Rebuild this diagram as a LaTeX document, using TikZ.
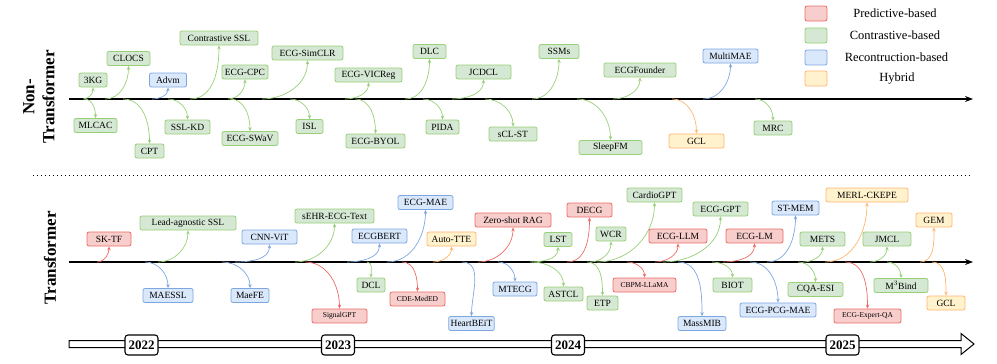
\documentclass[tikz,border=0pt]{standalone}
\usepackage{fontspec}
\setmainfont{Liberation Serif}
\usetikzlibrary{arrows.meta}

\definecolor{gfill}{HTML}{D5E8D4}
\definecolor{gline}{HTML}{97D077}
\definecolor{bfill}{HTML}{DAE8FC}
\definecolor{bline}{HTML}{7EA6E0}
\definecolor{rfill}{HTML}{F8CECC}
\definecolor{rline}{HTML}{EA6B66}
\definecolor{ofill}{HTML}{FFF2CC}
\definecolor{oline}{HTML}{FFB570}

\begin{document}
\begin{tikzpicture}[x=1pt, y=-1pt, >=Stealth,
    box/.style={rounded corners=2pt, line width=0.8pt, minimum height=14pt,
                inner xsep=2pt, inner ysep=0pt, font=\fontsize{9.5}{11}\selectfont},
    gbox/.style={box, draw=gline, fill=gfill},
    bbox/.style={box, draw=bline, fill=bfill},
    rbox/.style={box, draw=rline, fill=rfill},
    rsbox/.style={rbox, font=\fontsize{7.5}{9}\selectfont},
    obox/.style={box, draw=oline, fill=ofill},
    arr/.style={-{Stealth[length=4pt,width=3.4pt]}, line width=0.7pt},
    garr/.style={arr, draw=gline},
    barr/.style={arr, draw=bline},
    rarr/.style={arr, draw=rline},
    oarr/.style={arr, draw=oline},
    rise/.style={out=0, in=-90},
    fall/.style={out=0, in=90},
    tl/.style={line width=1.2pt, -{Stealth[length=8pt,width=6pt]}},
    yr/.style={draw, fill=white, rounded corners=3pt, line width=1.1pt,
               minimum width=33pt, minimum height=20pt, inner sep=1pt,
               font=\bfseries\fontsize{13}{14}\selectfont},
    side/.style={rotate=90, align=center, font=\bfseries\fontsize{17}{20}\selectfont},
    legtxt/.style={font=\fontsize{12.5}{14}\selectfont}]
  \useasboundingbox (0,0) rectangle (997,364);

  % section labels
  \node[side] (nontf) at (39,97) {Non-\\Transformer};
  \node[side] (tf) at (50,258) {Transformer};

  % timelines
  \coordinate (ns) at (69,99);  \coordinate (ne) at (973,99);
  \coordinate (ts) at (69,262); \coordinate (te) at (973,262);
  \draw[tl] (ns) -- (ne);
  \draw[tl] (ts) -- (te);
  \coordinate (ds) at (33,175); \coordinate (de) at (971,175);
  \draw[line width=1pt, dash pattern=on 1.2pt off 2.8pt] (ds) -- (de);

  % legend
  \node[rbox, minimum width=22pt, minimum height=15pt] (lp) at (816,13.5) {};
  \node[gbox, minimum width=22pt, minimum height=15pt] (lc) at (816,35.5) {};
  \node[bbox, minimum width=22pt, minimum height=15pt] (lr) at (816,57.5) {};
  \node[obox, minimum width=22pt, minimum height=15pt] (lh) at (816,78.5) {};
  \node[legtxt] (lp-t) at (895,13.5) {Predictive-based};
  \node[legtxt] (lc-t) at (895,35.5) {Contrastive-based};
  \node[legtxt] (lr-t) at (896.5,57.5) {Recontruction-based};
  \node[legtxt] (lh-t) at (897,78.5) {Hybrid};

  % ---- non-transformer ----
  \node[gbox, minimum width=28pt] (kg3) at (93,80) {3KG};
  \node[gbox, minimum width=43pt] (clocs) at (128.5,58.5) {CLOCS};
  \node[bbox, minimum width=37pt] (advm) at (168,80) {Advm};
  \node[gbox, minimum width=78pt] (cssl) at (219,38) {Contrastive SSL};
  \node[gbox, minimum width=43pt] (mlcac) at (95.5,125.5) {MLCAC};
  \node[gbox, minimum width=29pt] (cpt) at (149.5,151) {CPT};
  \node[gbox, minimum width=45pt] (sslkd) at (187.5,127) {SSL-KD};
  \node[gbox, minimum width=46pt] (ecgcpc) at (245,72) {ECG-CPC};
  \node[gbox, minimum width=56pt] (swav) at (250,138.5) {ECG-SWaV};
  \node[gbox, minimum width=71pt] (simclr) at (307.5,53) {ECG-SimCLR};
  \node[gbox, minimum width=27pt] (isl) at (309.5,126.5) {ISL};
  \node[gbox, minimum width=67pt] (vicreg) at (368.5,75) {ECG-VICReg};
  \node[gbox, minimum width=59pt] (byol) at (375.5,141) {ECG-BYOL};
  \node[gbox, minimum width=33pt] (dlc) at (429.5,51.5) {DLC};
  \node[gbox, minimum width=33pt] (pida) at (442.5,127) {PIDA};
  \node[gbox, minimum width=55pt] (jcdcl) at (483.5,72) {JCDCL};
  \node[gbox, minimum width=48pt] (sclst) at (513,134) {sCL-ST};
  \node[gbox, minimum width=40pt] (ssms) at (559,51.5) {SSMs};
  \node[gbox, minimum width=63pt] (sleepfm) at (610.5,147.5) {SleepFM};
  \node[gbox, minimum width=72pt] (founder) at (640,70) {ECGFounder};
  \node[obox, minimum width=55pt] (gcl) at (696.5,141) {GCL};
  \node[bbox, minimum width=55pt] (multimae) at (730.5,56) {MultiMAE};
  \node[gbox, minimum width=38pt] (mrc) at (773,128) {MRC};

  \foreach \n/\x in {kg3/83, mlcac/84, clocs/105, advm/152, cpt/123, sslkd/168,
      cssl/190, ecgcpc/228, swav/230, simclr/262, isl/290, vicreg/345, byol/355,
      dlc/405, pida/423, jcdcl/452, sclst/485, ssms/532, sleepfm/577,
      founder/613, gcl/672, multimae/703, mrc/755}
    \coordinate (t-\n) at (\x,99);

  \draw[garr] (t-kg3) to[rise] (kg3.south);
  \draw[garr] (t-mlcac) to[fall] (mlcac.north);
  \draw[garr] (t-clocs) to[rise] (clocs.south);
  \draw[barr] (t-advm) to[rise] (advm.south);
  \draw[garr] (t-cpt) to[fall] (cpt.north);
  \draw[garr] (t-sslkd) to[fall] (sslkd.north);
  \draw[garr] (t-cssl) to[rise] (cssl.south);
  \draw[garr] (t-ecgcpc) to[rise] (ecgcpc.south);
  \draw[garr] (t-swav) to[fall] (swav.north);
  \draw[garr] (t-simclr) to[rise] (simclr.south);
  \draw[garr] (t-isl) to[fall] (isl.north);
  \draw[garr] (t-vicreg) to[rise] (vicreg.south);
  \draw[garr] (t-byol) to[fall] (byol.north);
  \draw[garr] (t-dlc) to[rise] (dlc.south);
  \draw[garr] (t-pida) to[fall] (pida.north);
  \draw[garr] (t-jcdcl) to[rise] (jcdcl.south);
  \draw[garr] (t-sclst) to[fall] (sclst.north);
  \draw[garr] (t-ssms) to[rise] (ssms.south);
  \draw[garr] (t-sleepfm) to[fall] (sleepfm.north);
  \draw[garr] (t-founder) to[rise] (founder.south);
  \draw[oarr] (t-gcl) to[fall] (gcl.north);
  \draw[barr] (t-multimae) to[rise] (multimae.south);
  \draw[garr] (t-mrc) to[fall] (mrc.north);

  % ---- transformer ----
  \node[rbox, minimum width=44pt] (sktf) at (109,239) {SK-TF};
  \node[gbox, minimum width=96pt] (leadssl) at (188,223) {Lead-agnostic SSL};
  \node[bbox, minimum width=50pt] (maessl) at (168,295.5) {MAESSL};
  \node[bbox, minimum width=38pt] (maefe) at (250,295.5) {MaeFE};
  \node[bbox, minimum width=55pt] (cnnvit) at (269.5,237) {CNN-ViT};
  \node[gbox, minimum width=79pt] (sehr) at (334.5,216) {sEHR-ECG-Text};
  \node[rsbox, minimum width=55pt] (signalgpt) at (339.5,316) {SignalGPT};
  \node[bbox, minimum width=55pt] (ecgbert) at (379.5,236) {ECGBERT};
  \node[gbox, minimum width=28pt] (dcl) at (371,285) {DCL};
  \node[bbox, minimum width=55pt] (ecgmae) at (425.5,202.5) {ECG-MAE};
  \node[rsbox, minimum width=55pt] (cdemed) at (417.5,299) {CDE-MedED};
  \node[obox, minimum width=49pt] (autotte) at (451.5,239) {Auto-TTE};
  \node[bbox, minimum width=43pt] (heartbeit) at (471.5,323.5) {HeartBEiT};
  \node[rbox, minimum width=76pt] (zeroshot) at (513,220) {Zero-shot RAG};
  \node[bbox, minimum width=44pt] (mtecg) at (515,289) {MTECG};
  \node[gbox, minimum width=28pt] (lst) at (558,239.5) {LST};
  \node[gbox, minimum width=39pt] (astcl) at (563.5,294) {ASTCL};
  \node[rbox, minimum width=45pt] (decg) at (589.5,210) {DECG};
  \node[gbox, minimum width=31pt] (etp) at (602.5,303) {ETP};
  \node[gbox, minimum width=30pt] (wcr) at (611,234) {WCR};
  \node[gbox, minimum width=55pt] (cardiogpt) at (654.5,195) {CardioGPT};
  \node[rsbox, minimum width=63pt] (cbpm) at (644.5,285) {CBPM-LLaMA};
  \node[rbox, minimum width=58pt] (ecgllm) at (678,236) {ECG-LLM};
  \node[gbox, minimum width=55pt] (ecggpt) at (720.5,209) {ECG-GPT};
  \node[bbox, minimum width=48pt] (massmib) at (702,323.5) {MassMIB};
  \node[gbox, minimum width=39pt] (biot) at (732.5,285) {BIOT};
  \node[rbox, minimum width=57pt] (ecglm) at (754.5,236) {ECG-LM};
  \node[bbox, minimum width=76pt] (pcgmae) at (778,310) {ECG-PCG-MAE};
  \node[bbox, minimum width=47pt] (stmem) at (795.5,208) {ST-MEM};
  \node[gbox, minimum width=55pt] (cqa) at (815.5,289.5) {CQA-ESI};
  \node[gbox, minimum width=45pt] (mets) at (822.5,239) {METS};
  \node[obox, minimum width=82pt] (merl) at (867,195) {MERL-CKEPE};
  \node[rsbox, minimum width=67pt] (expertqa) at (867.5,316) {ECG-Expert-QA};
  \node[gbox, minimum width=48pt] (jmcl) at (887,239) {JMCL};
  \node[gbox, minimum width=54pt] (m3bind) at (901,285.5) {M$^3$Bind};
  \node[obox, minimum width=36pt] (gem) at (934,220) {GEM};
  \node[obox, minimum width=38pt] (gcltf) at (946,303) {GCL};

  \foreach \n/\x in {sktf/97, maessl/145, leadssl/158, maefe/222, cnnvit/235,
      sehr/295, signalgpt/305, ecgbert/347, dcl/367, ecgmae/387, cdemed/402,
      autotte/433, heartbeit/462, zeroshot/478, mtecg/498, lst/530, astcl/532,
      decg/567, etp/587, wcr/590, cardiogpt/597, cbpm/627, ecgllm/655,
      ecggpt/663, massmib/678, biot/712, ecglm/723, pcgmae/750, stmem/767,
      cqa/798, mets/803, merl/825, expertqa/845, jmcl/870, m3bind/887,
      gem/920, gcltf/932}
    \coordinate (t-\n) at (\x,262);

  \draw[rarr] (t-sktf) to[rise] (sktf.south);
  \draw[barr] (t-maessl) to[fall] (maessl.north);
  \draw[garr] (t-leadssl) to[rise] (leadssl.south);
  \draw[barr] (t-maefe) to[fall] (maefe.north);
  \draw[barr] (t-cnnvit) to[rise] (cnnvit.south);
  \draw[garr] (t-sehr) to[rise] (sehr.south);
  \draw[rarr] (t-signalgpt) to[fall] (signalgpt.north);
  \draw[barr] (t-ecgbert) to[rise] (ecgbert.south);
  \draw[garr] (t-dcl) to[fall] (dcl.north);
  \draw[barr] (t-ecgmae) to[rise] (ecgmae.south);
  \draw[rarr] (t-cdemed) to[fall] (cdemed.north);
  \draw[oarr] (t-autotte) to[rise] (autotte.south);
  \draw[barr] (t-heartbeit) to[fall] (heartbeit.north);
  \draw[rarr] (t-zeroshot) to[rise] (zeroshot.south);
  \draw[barr] (t-mtecg) to[fall] (mtecg.north);
  \draw[garr] (t-lst) to[rise] (lst.south);
  \draw[garr] (t-astcl) to[fall] (astcl.north);
  \draw[rarr] (t-decg) to[rise] (decg.south);
  \draw[garr] (t-etp) to[fall] (etp.north);
  \draw[garr] (t-wcr) to[rise] (wcr.south);
  \draw[garr] (t-cardiogpt) to[rise] (cardiogpt.south);
  \draw[rarr] (t-cbpm) to[fall] (cbpm.north);
  \draw[rarr] (t-ecgllm) to[rise] (ecgllm.south);
  \draw[garr] (t-ecggpt) to[rise] (ecggpt.south);
  \draw[barr] (t-massmib) to[fall] (massmib.north);
  \draw[garr] (t-biot) to[fall] (biot.north);
  \draw[rarr] (t-ecglm) to[rise] (ecglm.south);
  \draw[barr] (t-pcgmae) to[fall] (pcgmae.north);
  \draw[barr] (t-stmem) to[rise] (stmem.south);
  \draw[garr] (t-cqa) to[fall] (cqa.north);
  \draw[garr] (t-mets) to[rise] (mets.south);
  \draw[oarr] (t-merl) to[rise] (merl.south);
  \draw[rarr] (t-expertqa) to[fall] (expertqa.north);
  \draw[garr] (t-jmcl) to[rise] (jmcl.south);
  \draw[garr] (t-m3bind) to[fall] (m3bind.north);
  \draw[oarr] (t-gem) to[rise] (gem.south);
  \draw[oarr] (t-gcltf) to[fall] (gcltf.north);

  % years
  \draw[line width=1pt, fill=white] (69,340.5) -- (961,340.5) -- (961,333.5)
    -- (974,344) -- (961,354.5) -- (961,347.5) -- (69,347.5) -- cycle;
  \node[yr] (y22) at (141.5,345) {2022};
  \node[yr] (y23) at (338,345) {2023};
  \node[yr] (y24) at (568,345) {2024};
  \node[yr] (y25) at (842.5,345) {2025};
\end{tikzpicture}
\end{document}
